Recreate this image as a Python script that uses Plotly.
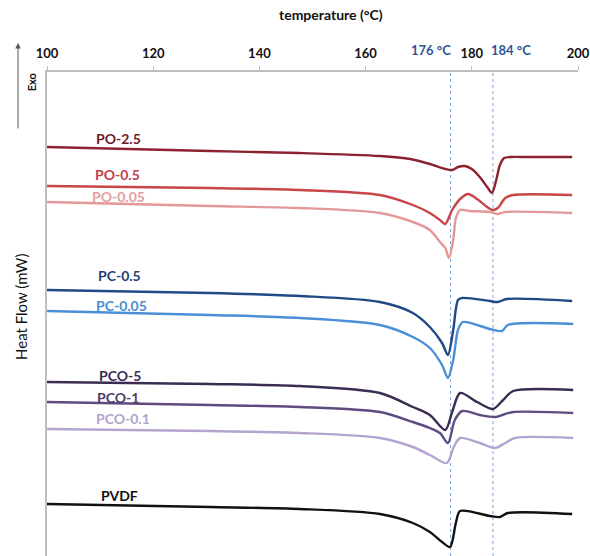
import plotly.graph_objects as go

# DSC heating traces: temperature (°C) and heat flow (mW, curves offset for clarity)
po25_t = [100.0, 130.7, 147.6, 162.7, 168.4, 172.1, 175.0, 176.3, 177.4, 178.7, 180.0, 181.5, 182.9, 183.8, 184.6, 185.3, 186.1, 187.2, 191.0, 198.9]
po25_hf = [4.09, 4.05, 4.03, 4.00, 3.97, 3.92, 3.87, 3.86, 3.89, 3.90, 3.87, 3.79, 3.69, 3.63, 3.76, 3.91, 3.98, 3.99, 3.99, 3.99]

po05_t = [100.0, 130.7, 147.6, 162.7, 168.9, 172.1, 174.0, 175.0, 176.3, 177.8, 179.3, 181.0, 182.9, 184.0, 184.9, 186.3, 187.8, 198.9]
po05_hf = [3.70, 3.68, 3.66, 3.61, 3.51, 3.43, 3.36, 3.32, 3.46, 3.57, 3.62, 3.57, 3.49, 3.46, 3.48, 3.58, 3.61, 3.61]

po005_t = [100.0, 130.7, 147.6, 162.7, 168.9, 172.1, 174.0, 175.0, 175.7, 176.5, 177.0, 177.8, 179.6, 183.4, 184.9, 186.3, 198.9]
po005_hf = [3.54, 3.50, 3.48, 3.43, 3.34, 3.26, 3.14, 3.08, 2.98, 3.16, 3.38, 3.46, 3.45, 3.44, 3.42, 3.44, 3.43]

pc05_t = [100.0, 130.7, 147.6, 162.7, 168.9, 172.1, 174.4, 175.5, 176.5, 177.4, 178.2, 183.4, 184.9, 186.6, 198.9]
pc05_hf = [2.66, 2.63, 2.60, 2.54, 2.43, 2.29, 2.13, 2.01, 2.26, 2.56, 2.58, 2.55, 2.54, 2.57, 2.55]

pc005_t = [100.0, 130.7, 147.6, 162.7, 168.9, 172.1, 174.4, 175.5, 176.5, 177.4, 178.3, 183.4, 185.7, 186.8, 199.1]
pc005_hf = [2.45, 2.41, 2.38, 2.31, 2.19, 2.08, 1.91, 1.78, 1.96, 2.26, 2.34, 2.27, 2.25, 2.31, 2.32]

pco5_t = [100.0, 130.7, 147.6, 162.7, 168.9, 172.1, 175.0, 176.3, 177.8, 181.0, 184.0, 185.9, 187.8, 199.1]
pco5_hf = [1.74, 1.72, 1.70, 1.63, 1.49, 1.41, 1.26, 1.44, 1.63, 1.54, 1.47, 1.56, 1.65, 1.66]

pco1_t = [100.0, 130.7, 147.6, 162.7, 168.9, 172.1, 174.0, 175.5, 176.8, 178.2, 181.5, 184.4, 186.3, 187.8, 199.1]
pco1_hf = [1.54, 1.51, 1.49, 1.44, 1.34, 1.28, 1.23, 1.13, 1.36, 1.45, 1.41, 1.39, 1.42, 1.44, 1.43]

pco01_t = [100.0, 130.7, 147.6, 162.7, 168.9, 172.1, 175.3, 176.6, 177.8, 181.5, 184.4, 186.3, 188.1, 199.1]
pco01_hf = [1.27, 1.25, 1.23, 1.18, 1.09, 1.01, 0.93, 1.09, 1.18, 1.13, 1.08, 1.13, 1.18, 1.18]

pvdf_t = [100.0, 130.7, 147.6, 162.7, 168.9, 172.1, 174.4, 175.9, 177.0, 177.8, 183.4, 185.3, 186.8, 198.9]
pvdf_hf = [0.52, 0.49, 0.47, 0.42, 0.33, 0.24, 0.14, 0.09, 0.33, 0.45, 0.40, 0.39, 0.43, 0.42]

names = ["PO-2.5", "PO-0.5", "PO-0.05", "PC-0.5", "PC-0.05", "PCO-5", "PCO-1", "PCO-0.1", "PVDF"]
temps = [po25_t, po05_t, po005_t, pc05_t, pc005_t, pco5_t, pco1_t, pco01_t, pvdf_t]
flows = [po25_hf, po05_hf, po005_hf, pc05_hf, pc005_hf, pco5_hf, pco1_hf, pco01_hf, pvdf_hf]

# melting-peak reference temperatures
ref_temps = [176, 184]
ref_labels = ["176 °C", "184 °C"]
tick_vals = [100, 120, 140, 160, 180, 200]

# styling
line_colors = ["#8c2230", "#c8464a", "#e3999a", "#1f4a85", "#4b8fd6",
               "#3a2c52", "#5e4b80", "#b3a4d0", "#111111"]
label_colors = ["#6e1a26", "#c0414a", "#e3a0a2", "#1f3f78", "#4a8ed2",
                "#3a2c52", "#4d3d6e", "#b1a4cc", "#111111"]
label_pos = [(113.4, 4.18), (113.2, 3.82), (113.4, 3.60), (113.7, 2.81), (114.1, 2.51),
             (113.7, 1.81), (113.4, 1.59), (114.3, 1.38), (113.6, 0.61)]
FONT = "Lato"

fig = go.Figure()
for name, t, hf, c in zip(names, temps, flows, line_colors):
    fig.add_trace(go.Scatter(x=t, y=hf, mode="lines", name=name,
                             line=dict(color=c, width=2.4, shape="spline", smoothing=0.8)))

for name, (lx, ly), c in zip(names, label_pos, label_colors):
    fig.add_annotation(x=lx, y=ly, text=f"<b>{name}</b>", showarrow=False,
                       font=dict(family=FONT, size=14, color=c), xanchor="center", yanchor="middle")

for t in ref_temps:
    fig.add_shape(type="line", x0=t, x1=t, y0=0, y1=1, xref="x", yref="paper",
                  line=dict(color="#7ea6da", width=1, dash="dot"), layer="below")

fig.add_annotation(x=ref_temps[0], y=1.0, xref="x", yref="paper", text=f"<b>{ref_labels[0]}</b>",
                   showarrow=False, xanchor="right", yanchor="bottom", yshift=12, xshift=2,
                   font=dict(family=FONT, size=13, color="#2f5597"))
fig.add_annotation(x=ref_temps[1], y=1.0, xref="x", yref="paper", text=f"<b>{ref_labels[1]}</b>",
                   showarrow=False, xanchor="left", yanchor="bottom", yshift=12, xshift=-4,
                   font=dict(family=FONT, size=13, color="#2f5597"))

# axis titles and the exotherm direction arrow
fig.add_annotation(x=0.535, y=1.118, xref="paper", yref="paper", text="<b>temperature (°C)</b>",
                   showarrow=False, xanchor="center", yanchor="middle",
                   font=dict(family=FONT, size=14, color="#111"))
fig.add_annotation(x=-0.0494, y=0.514, xref="paper", yref="paper", text="Heat Flow (mW)",
                   showarrow=False, textangle=-90, xanchor="center", yanchor="middle",
                   font=dict(family=FONT, size=15, color="#111"))
fig.add_annotation(x=-0.030, y=0.979, xref="paper", yref="paper", text="<b>Exo</b>",
                   showarrow=False, textangle=-90, xanchor="center", yanchor="middle",
                   font=dict(family=FONT, size=11, color="#111"))
fig.add_annotation(x=-0.0546, y=1.060, xref="paper", yref="paper", text="",
                   showarrow=True, ax=0, ay=87, arrowhead=2, arrowsize=1.1, arrowwidth=1,
                   arrowcolor="#555")

fig.update_layout(
    width=590, height=556,
    margin=dict(l=47, r=12, t=72, b=0),
    paper_bgcolor="white", plot_bgcolor="white",
    showlegend=False,
    xaxis=dict(range=[100, 200], side="top", tickvals=tick_vals, ticks="outside", ticklen=4,
               tickcolor="#bfbfbf", showline=True, linecolor="#bfbfbf", linewidth=1.5,
               showgrid=False, zeroline=False, ticklabelstandoff=3,
               tickfont=dict(family=FONT, size=13, color="#111", weight="bold")),
    yaxis=dict(range=[0, 4.84], showline=True, linecolor="#bfbfbf", linewidth=1.5,
               showticklabels=False, ticks="", showgrid=False, zeroline=False),
)

fig.write_html("out.html")
